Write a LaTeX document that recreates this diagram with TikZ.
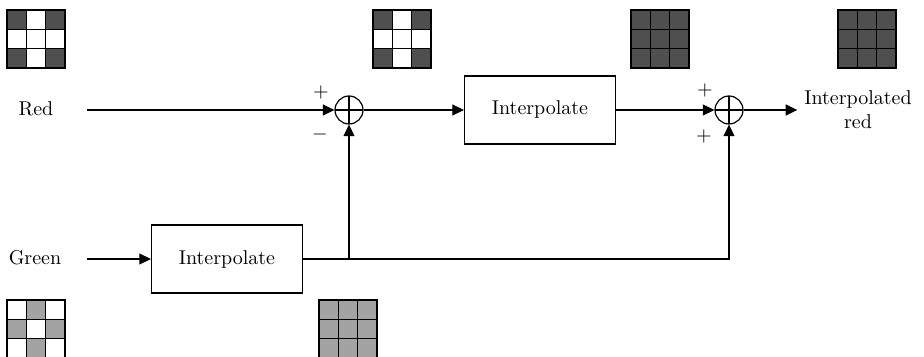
\documentclass[tikz,border=0pt]{standalone}
\usepackage{amsmath}
\usetikzlibrary{arrows.meta,calc,positioning}

\definecolor{pixdark}{gray}{0.31}
\definecolor{pixlight}{gray}{0.64}
% one cell of a 3x3 pixel patch: x0, y0, column, row, colour
\newcommand{\pixcell}[5]{\fill[#5] ({#1+#3*19.33},{#2+#4*19.33}) rectangle ++(19.33,19.33);}
% outline and inner lines of a 3x3 pixel patch
\newcommand{\pixframe}[2]{%
  \draw[gridline] (#1,#2) rectangle ++(58,58);
  \draw[gridline] ({#1+19.33},#2) -- ++(0,58) ({#1+38.67},#2) -- ++(0,58)
    (#1,{#2+19.33}) -- ++(58,0) (#1,{#2+38.67}) -- ++(58,0);}

\begin{document}
\begin{tikzpicture}[
x=0.5pt, y=-0.5pt,
block/.style={draw, line width=0.6pt, minimum width=75.5pt, minimum height=34pt, inner sep=2pt},
summer/.style={draw, circle, line width=0.6pt, minimum size=14pt, inner sep=0pt, path picture={\draw[line width=0.6pt] (path picture bounding box.north) -- (path picture bounding box.south) (path picture bounding box.west) -- (path picture bounding box.east);}},
sign/.style={inner sep=0pt},
signal/.style={line width=0.6pt},
arrow/.style={-{Triangle[length=5.8pt,width=5.5pt]}, line width=0.6pt},
gridline/.style={draw=black, line width=0.6pt}
]
\useasboundingbox (0,0) rectangle (924,357);

% pixel patches
\foreach \c/\r in {0/0,2/0,0/2,2/2} {\pixcell{7}{10}{\c}{\r}{pixdark}}
\pixframe{7}{10}
\foreach \c/\r in {0/0,2/0,0/2,2/2} {\pixcell{373}{10}{\c}{\r}{pixdark}}
\pixframe{373}{10}
\fill[pixdark] (631,10) rectangle ++(58,58);
\pixframe{631}{10}
\fill[pixdark] (838,10) rectangle ++(58,58);
\pixframe{838}{10}
\foreach \c/\r in {1/0,0/1,2/1,1/2} {\pixcell{7}{300}{\c}{\r}{pixlight}}
\pixframe{7}{300}
\fill[pixlight] (319,300) rectangle ++(58,58);
\pixframe{319}{300}

% top row
\node (red) at (36,109) {Red};
\coordinate (redin) at (87,110);
\node[summer] (sum1) at (349,110) {};
\node[block] (interp1) at (540,110) {Interpolate};
\node[summer] (sum2) at (729,110) {};
\node[align=center] (out) at (858,110) {Interpolated\\red};

\node[sign] at (321,93) {$+$};
\node[sign] at (320,135) {$-$};
\node[sign] at (705,91) {$+$};
\node[sign] at (704,137) {$+$};

% bottom row
\node (green) at (35,258) {Green};
\coordinate (greenin) at (87,259);
\node[block] (interp2) at (227,259) {Interpolate};
\coordinate (tap) at (sum1 |- interp2.east);

\draw[arrow] (redin) -- (sum1.west);
\draw[arrow] (sum1.east) -- (interp1.west);
\draw[arrow] (interp1.east) -- (sum2.west);
\draw[arrow] (sum2.east) -- (out.west);
\draw[arrow] (greenin) -- (interp2.west);
\draw[arrow] (interp2.east) -| (sum2.south);
\draw[arrow] (tap) -- (sum1.south);
\end{tikzpicture}
\end{document}
